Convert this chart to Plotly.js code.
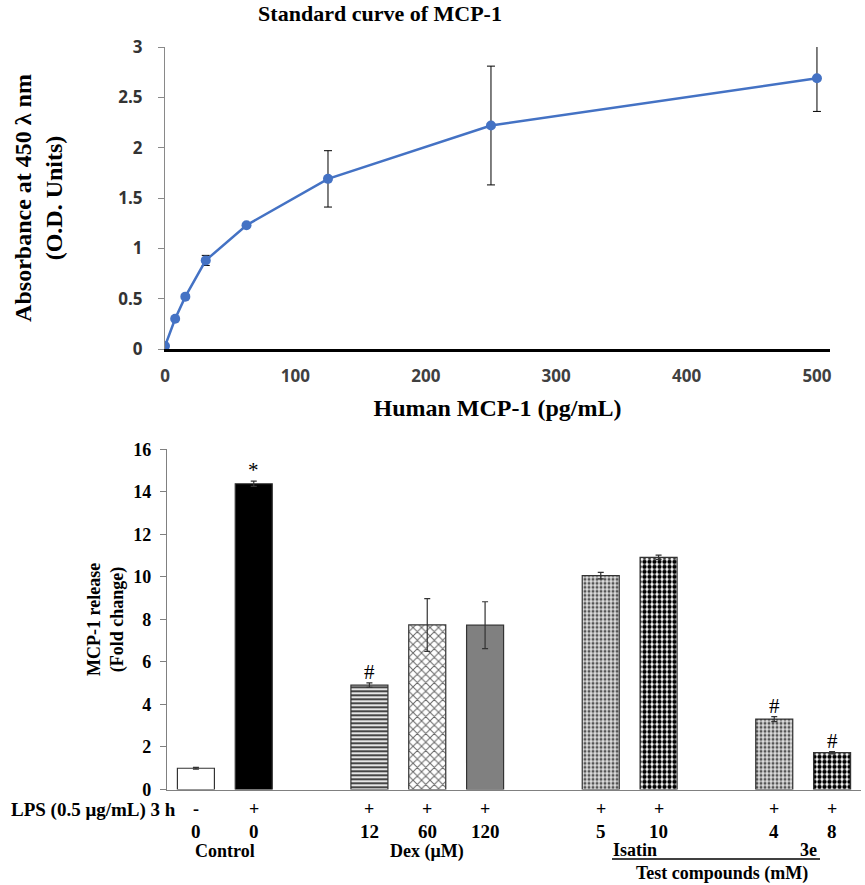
<!DOCTYPE html>
<html>
<head>
<meta charset="utf-8">
<script src="https://cdn.plot.ly/plotly-3.0.1.min.js"></script>
<style>html,body{margin:0;padding:0;background:#fff;}#chart{width:865px;height:885px;}</style>
</head>
<body>
<div id="chart"></div>
<script>
// ---- Standard curve data ----
const conc = [0, 7.8, 15.6, 31.25, 62.5, 125, 250, 500];
const absorb = [0.03, 0.30, 0.52, 0.88, 1.23, 1.69, 2.22, 2.69];
const absorbErr = [0, 0, 0, 0.05, 0, 0.28, 0.59, 0.33];
const concTicks = [0, 100, 200, 300, 400, 500];

// ---- MCP-1 release data ----
const groups = ["Control", "Control", "Dex", "Dex", "Dex", "Isatin", "Isatin", "3e", "3e"];
const lps = ["-", "+", "+", "+", "+", "+", "+", "+", "+"];
const doses = ["0", "0", "12", "60", "120", "5", "10", "4", "8"];
const release = [1.0, 14.38, 4.91, 7.74, 7.73, 10.06, 10.92, 3.31, 1.73];
const releaseErr = [0.04, 0.12, 0.10, 1.24, 1.10, 0.15, 0.10, 0.12, 0.05];
const sigMarks = ["", "*", "#", "", "", "", "", "#", "#"];

// slot positions: one empty slot between groups
const pos = [];
let gap = 0;
groups.forEach((g, i) => { if (i > 0 && g !== groups[i - 1]) gap++; pos.push(i + gap); });
const groupCenter = g => { const p = pos.filter((_, i) => groups[i] === g); return p.reduce((a, b) => a + b, 0) / p.length; };

const serif = "Liberation Serif, Times New Roman, serif";
const sans = "Open Sans, Liberation Sans, sans-serif";
const W = 865, H = 885;
const py = px => (H - px) / H;

// bar fill styles
const styles = [
  {color: "#ffffff"},
  {color: "#000000"},
  {color: "#e6e6e6", pattern: {shape: "-", fgcolor: "#333333", bgcolor: "#e6e6e6", size: 4, solidity: 0.45}},
  {color: "#ffffff", pattern: {shape: "x", fgcolor: "#666666", bgcolor: "#ffffff", size: 6, solidity: 0.3}},
  {color: "#808080"},
  {color: "#dddddd", pattern: {shape: ".", fgcolor: "#555555", bgcolor: "#dddddd", size: 4, solidity: 0.45}},
  {color: "#ffffff", pattern: {shape: ".", fgcolor: "#000000", bgcolor: "#ffffff", size: 5, solidity: 0.6}},
  {color: "#dddddd", pattern: {shape: ".", fgcolor: "#555555", bgcolor: "#dddddd", size: 4, solidity: 0.45}},
  {color: "#ffffff", pattern: {shape: ".", fgcolor: "#000000", bgcolor: "#ffffff", size: 5, solidity: 0.6}}
];

const traces = [
  {
    type: "scatter", mode: "lines+markers", x: conc, y: absorb, xaxis: "x", yaxis: "y",
    line: {color: "#4472C4", width: 2.5},
    marker: {color: "#4472C4", size: 10},
    error_y: {type: "data", array: absorbErr, visible: true, color: "#000", thickness: 1, width: 4},
    showlegend: false
  }
];
release.forEach((v, i) => {
  const st = styles[i];
  const marker = {color: st.color, line: {color: "#333", width: 1.2}};
  if (st.pattern) marker.pattern = st.pattern;
  traces.push({
    type: "bar", x: [pos[i]], y: [v], xaxis: "x2", yaxis: "y2", width: 0.64,
    marker: marker,
    error_y: {type: "data", array: [releaseErr[i]], visible: true, color: "#333", thickness: 1.2, width: 3},
    showlegend: false
  });
});

const annotations = [];
const rowFont = {family: serif, size: 18, color: "#000", weight: "bold"};
annotations.push({xref: "paper", yref: "paper", x: 178 / W, y: py(810), xanchor: "right", yanchor: "middle",
  text: "LPS (0.5 μg/mL) 3 h", showarrow: false, font: {family: serif, size: 19, color: "#000", weight: "bold"}});
pos.forEach((p, i) => {
  annotations.push({xref: "x2", yref: "paper", x: p, y: py(809), xanchor: "center", yanchor: "middle",
    text: lps[i], showarrow: false, font: rowFont});
  annotations.push({xref: "x2", yref: "paper", x: p, y: py(831), xanchor: "center", yanchor: "middle",
    text: doses[i], showarrow: false, font: {family: serif, size: 19, color: "#000", weight: "bold"}});
  if (sigMarks[i]) {
    annotations.push({xref: "x2", yref: "y2", x: p, y: release[i] + releaseErr[i], xanchor: "center", yanchor: "bottom",
      text: sigMarks[i], showarrow: false, font: {family: serif, size: 21, color: "#000"}, yshift: -3});
  }
});
annotations.push({xref: "x2", yref: "paper", x: groupCenter("Control"), y: py(851), xanchor: "center", yanchor: "middle",
  text: "Control", showarrow: false, font: rowFont});
annotations.push({xref: "x2", yref: "paper", x: groupCenter("Dex"), y: py(851), xanchor: "center", yanchor: "middle",
  text: "Dex (μM)", showarrow: false, font: rowFont});
annotations.push({xref: "x2", yref: "paper", x: groupCenter("Isatin") + 0.1, y: py(850), xanchor: "center", yanchor: "middle",
  text: "Isatin", showarrow: false, font: rowFont});
annotations.push({xref: "x2", yref: "paper", x: groupCenter("3e") + 0.1, y: py(850), xanchor: "center", yanchor: "middle",
  text: "3e", showarrow: false, font: rowFont});
annotations.push({xref: "x2", yref: "paper", x: (groupCenter("Isatin") + groupCenter("3e")) / 2 + 0.1, y: py(873), xanchor: "center", yanchor: "middle",
  text: "Test compounds (mM)", showarrow: false, font: rowFont});

const layout = {
  width: W, height: H,
  margin: {l: 0, r: 0, t: 0, b: 0},
  paper_bgcolor: "#fff", plot_bgcolor: "rgba(0,0,0,0)",
  showlegend: false,
  title: {text: "Standard curve of MCP-1", x: 380 / W, xanchor: "center", xref: "paper",
    y: py(13), yanchor: "middle", yref: "paper",
    font: {family: serif, size: 22, color: "#000", weight: "bold"}},
  xaxis: {
    domain: [165 / W, 830 / W], range: [0, 510], anchor: "y",
    tickvals: concTicks, ticks: "", showgrid: false, zeroline: false,
    showline: true, linecolor: "#000", linewidth: 2.5,
    tickfont: {family: sans, size: 17, color: "#404040", weight: "bold"},
    ticklabelstandoff: 10,
    title: {text: "Human MCP-1 (pg/mL)", standoff: 14, font: {family: serif, size: 24, color: "#000", weight: "bold"}}
  },
  yaxis: {
    domain: [py(349), py(47)], range: [0, 3], anchor: "x", dtick: 0.5,
    showgrid: false, zeroline: false, showline: true, linecolor: "#898989", linewidth: 1,
    ticks: "outside", ticklen: 6, tickcolor: "#898989",
    tickfont: {family: sans, size: 17, color: "#333", weight: "bold"},
    ticklabelstandoff: 12,
    title: {text: "Absorbance at 450 λ nm<br>(O.D. Units)", standoff: 48, font: {family: serif, size: 24, color: "#000", weight: "bold"}}
  },
  xaxis2: {
    domain: [167 / W, 861 / W], range: [-0.5, 11.5], anchor: "y2",
    showticklabels: false, ticks: "", showgrid: false, zeroline: false,
    showline: true, linecolor: "#808080", linewidth: 1.5
  },
  yaxis2: {
    domain: [py(789.5), py(449.3)], range: [0, 16], anchor: "x2", dtick: 2,
    showgrid: false, zeroline: false, showline: true, linecolor: "#808080", linewidth: 1.2,
    ticks: "outside", ticklen: 6, tickcolor: "#808080",
    tickfont: {family: serif, size: 18, color: "#000", weight: "bold"},
    ticklabelstandoff: 5,
    title: {text: "MCP-1 release<br>(Fold change)", standoff: 4, font: {family: serif, size: 18, color: "#000", weight: "bold"}}
  },
  annotations: annotations,
  shapes: [
    {type: "line", xref: "paper", yref: "paper", x0: 612 / W, x1: 820 / W, y0: py(859), y1: py(859),
      line: {color: "#000", width: 1.5}}
  ]
};

Plotly.newPlot("chart", traces, layout, {staticPlot: true, displayModeBar: false});
</script>
</body>
</html>
